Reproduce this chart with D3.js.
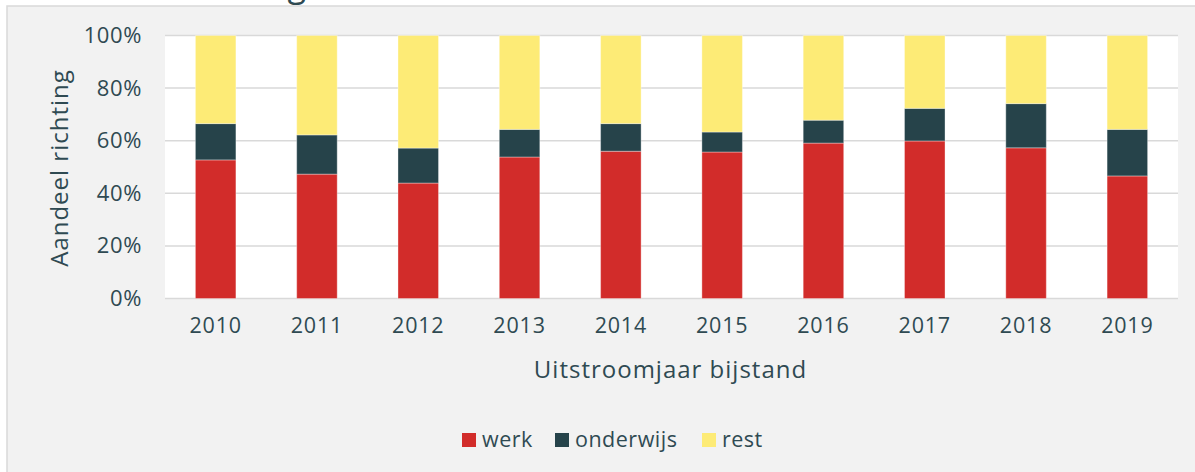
<!DOCTYPE html>
<html>
<head>
<meta charset="utf-8">
<script src="https://cdn.jsdelivr.net/npm/d3@7"></script>
<style>
  html, body { margin: 0; padding: 0; background: #ffffff; }
  svg { display: block; }
  text { font-family: "Open Sans", Lato, sans-serif; fill: #2f4a52; }
</style>
</head>
<body>
<svg id="chart" width="1195" height="472"></svg>
<script>
const years = ["2010","2011","2012","2013","2014","2015","2016","2017","2018","2019"];
const werk = [52.7, 47.3, 43.9, 53.8, 56.0, 55.7, 59.1, 59.9, 57.3, 46.6];
const onderwijs = [13.8, 14.9, 13.3, 10.5, 10.5, 7.6, 8.7, 12.4, 16.8, 17.7];
const rest = [33.5, 37.8, 42.8, 35.7, 33.5, 36.7, 32.2, 27.7, 25.9, 35.7];
const seriesNames = ["werk", "onderwijs", "rest"];
const seriesColors = ["#d22c2a", "#26434a", "#fdeb76"];
const yTicks = [0, 20, 40, 60, 80, 100];

const svg = d3.select("#chart");
const m = { left: 165, right: 1178, top: 35.5, bottom: 298.5 };
const FONT = "'Open Sans', Lato, sans-serif";
const TXT = "#2f4a52";

// panel background
svg.append("rect").attr("x", 7).attr("y", 6).attr("width", 1250).attr("height", 520)
  .attr("fill", "#f2f2f2").attr("stroke", "#d9d9d9").attr("stroke-width", 1.5);

// cut-off title (only the descender is visible in the reference)
svg.append("text").attr("x", 306).attr("y", -3).attr("text-anchor", "end")
  .attr("font-size", 34).text("Richting");

// plot area
svg.append("rect").attr("x", m.left).attr("y", m.top).attr("width", m.right - m.left)
  .attr("height", m.bottom - m.top).attr("fill", "#ffffff");

const x = d3.scaleBand().domain(years).range([m.left, m.right]).paddingInner(0.6).paddingOuter(0.3);
const y = d3.scaleLinear().domain([0, 100]).range([m.bottom, m.top]);

// gridlines
svg.append("g").selectAll("line").data(yTicks).join("line")
  .attr("x1", m.left).attr("x2", m.right)
  .attr("y1", d => y(d)).attr("y2", d => y(d))
  .attr("stroke", "#d9d9d9").attr("stroke-width", 1.5);

const table = years.map((yr, i) => ({ year: yr, werk: werk[i], onderwijs: onderwijs[i], rest: rest[i] }));
const stacked = d3.stack().keys(seriesNames)(table);

svg.append("g").selectAll("g").data(stacked).join("g")
  .attr("fill", (d, i) => seriesColors[i])
  .selectAll("rect").data(d => d).join("rect")
  .attr("x", d => x(d.data.year))
  .attr("width", x.bandwidth())
  .attr("y", d => y(d[1]))
  .attr("height", d => y(d[0]) - y(d[1]))
  .attr("stroke", "rgba(255,255,255,0.35)").attr("stroke-width", 1);

// y axis
const yAxis = d3.axisLeft(y).tickValues(yTicks).tickFormat(d => d + "%").tickSize(0).tickPadding(23);
const yg = svg.append("g").attr("transform", `translate(${m.left},0)`).call(yAxis);
yg.select(".domain").remove();
yg.selectAll("text").attr("font-size", 22).attr("letter-spacing", 0.6)
  .style("font-family", FONT).attr("fill", TXT);

// x axis
const xAxis = d3.axisBottom(x).tickSize(0).tickPadding(19);
const xg = svg.append("g").attr("transform", `translate(0,${m.bottom})`).call(xAxis);
xg.select(".domain").remove();
xg.selectAll("text").attr("font-size", 21.5).attr("letter-spacing", 0.8)
  .style("font-family", FONT).attr("fill", TXT);

// axis titles
svg.append("text").attr("x", (m.left + m.right) / 2 - 1).attr("y", 378).attr("text-anchor", "middle")
  .attr("font-size", 24).attr("letter-spacing", 1).text("Uitstroomjaar bijstand");
svg.append("text").attr("transform", "translate(68,168) rotate(-90)").attr("text-anchor", "middle")
  .attr("font-size", 24).attr("letter-spacing", 1).text("Aandeel richting");

// legend
const legendX = [462, 555, 702];
const lg = svg.append("g").selectAll("g").data(seriesNames).join("g")
  .attr("transform", (d, i) => `translate(${legendX[i]},433)`);
lg.append("rect").attr("width", 14).attr("height", 14).attr("fill", (d, i) => seriesColors[i]);
lg.append("text").attr("x", 20).attr("y", 14).attr("font-size", 21.5).attr("letter-spacing", 0.5).text(d => d);
</script>
</body>
</html>
